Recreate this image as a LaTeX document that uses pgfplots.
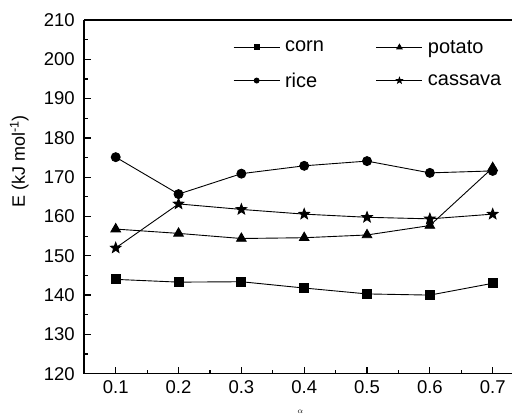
\documentclass[border=0pt]{standalone}
\usepackage{pgfplots}
\pgfplotsset{compat=1.18}
\usepackage{fontspec}
\setmainfont{Liberation Sans}
\pgfdeclareplotmark{fstar}{%
  \pgfpathmoveto{\pgfpointpolar{90}{\pgfplotmarksize}}%
  \pgfpathlineto{\pgfpointpolar{126}{0.42\pgfplotmarksize}}%
  \pgfpathlineto{\pgfpointpolar{162}{\pgfplotmarksize}}%
  \pgfpathlineto{\pgfpointpolar{198}{0.42\pgfplotmarksize}}%
  \pgfpathlineto{\pgfpointpolar{234}{\pgfplotmarksize}}%
  \pgfpathlineto{\pgfpointpolar{270}{0.42\pgfplotmarksize}}%
  \pgfpathlineto{\pgfpointpolar{306}{\pgfplotmarksize}}%
  \pgfpathlineto{\pgfpointpolar{342}{0.42\pgfplotmarksize}}%
  \pgfpathlineto{\pgfpointpolar{18}{\pgfplotmarksize}}%
  \pgfpathlineto{\pgfpointpolar{54}{0.42\pgfplotmarksize}}%
  \pgfpathclose
  \pgfusepathqfillstroke
}
\begin{document}
\begin{tikzpicture}
\useasboundingbox (-84.3pt,-43.3pt) rectangle (427.7pt,373.7pt);
\begin{axis}[
  scale only axis,
  width=428.5pt, height=353.7pt,
  xmin=0.05, xmax=0.732,
  ymin=120, ymax=210,
  axis x line*=box, axis y line*=left,
  tick pos=left,
  tick align=inside,
  xtick={0.1,0.2,0.3,0.4,0.5,0.6,0.7},
  xticklabels={0.1,0.2,0.3,0.4,0.5,0.6,0.7},
  ytick={120,130,140,150,160,170,180,190,200,210},
  minor x tick num=1, minor y tick num=1,
  major tick length=7pt, minor tick length=4pt,
  every tick/.style={black, line width=1.2pt},
  axis line style={line width=1.6pt},
  /pgf/number format/assume math mode=true,
  tick label style={font=\fontsize{18.5}{21}\selectfont},
  xticklabel style={yshift=-3pt},
  yticklabel style={xshift=-6pt},
  xlabel={$\alpha$},
  xlabel style={at={(rel axis cs:0.504,0)}, anchor=center, yshift=-38pt, font=\fontsize{8}{9}\selectfont},
  ylabel={E (kJ mol\textsuperscript{-1})},
  ylabel style={at={(rel axis cs:0,0.60)}, anchor=center, yshift=65pt, font=\fontsize{18}{20}\selectfont},
  legend columns=2,
  legend cell align=left,
  legend style={draw=none, fill=none, at={(0.34,0.955)}, anchor=north west,
    font=\fontsize{20}{23}\selectfont, row sep=14pt,
    /tikz/every even column/.append style={column sep=50pt}},
  legend image code/.code={\draw[mark repeat=2,mark phase=2,#1,/tikz/every mark/.append style={scale=0.55}] plot coordinates {(0pt,0pt)(23pt,0pt)(46pt,0pt)}; \path (49pt,0pt);},
  every axis plot/.append style={black, line width=0.9pt, mark options={fill=black, solid}},
]
\addplot[mark=square*, mark size=4.5pt] coordinates {
(0.1,144.0) (0.2,143.3) (0.3,143.4) (0.4,141.8) (0.5,140.3) (0.6,140.0) (0.7,143.0)};
\addlegendentry{corn}
\addplot[mark=triangle*, mark size=5.5pt] coordinates {
(0.1,156.8) (0.2,155.7) (0.3,154.4) (0.4,154.6) (0.5,155.3) (0.6,157.7) (0.7,172.4)};
\addlegendentry{potato}
\addplot[mark=*, mark size=4.5pt] coordinates {
(0.1,175.1) (0.2,165.7) (0.3,170.9) (0.4,172.9) (0.5,174.1) (0.6,171.1) (0.7,171.6)};
\addlegendentry{rice}
\addplot[mark=fstar, mark size=5.5pt] coordinates {
(0.1,152.0) (0.2,163.2) (0.3,161.8) (0.4,160.6) (0.5,159.8) (0.6,159.4) (0.7,160.6)};
\addlegendentry{cassava}
\end{axis}
\end{tikzpicture}
\end{document}
